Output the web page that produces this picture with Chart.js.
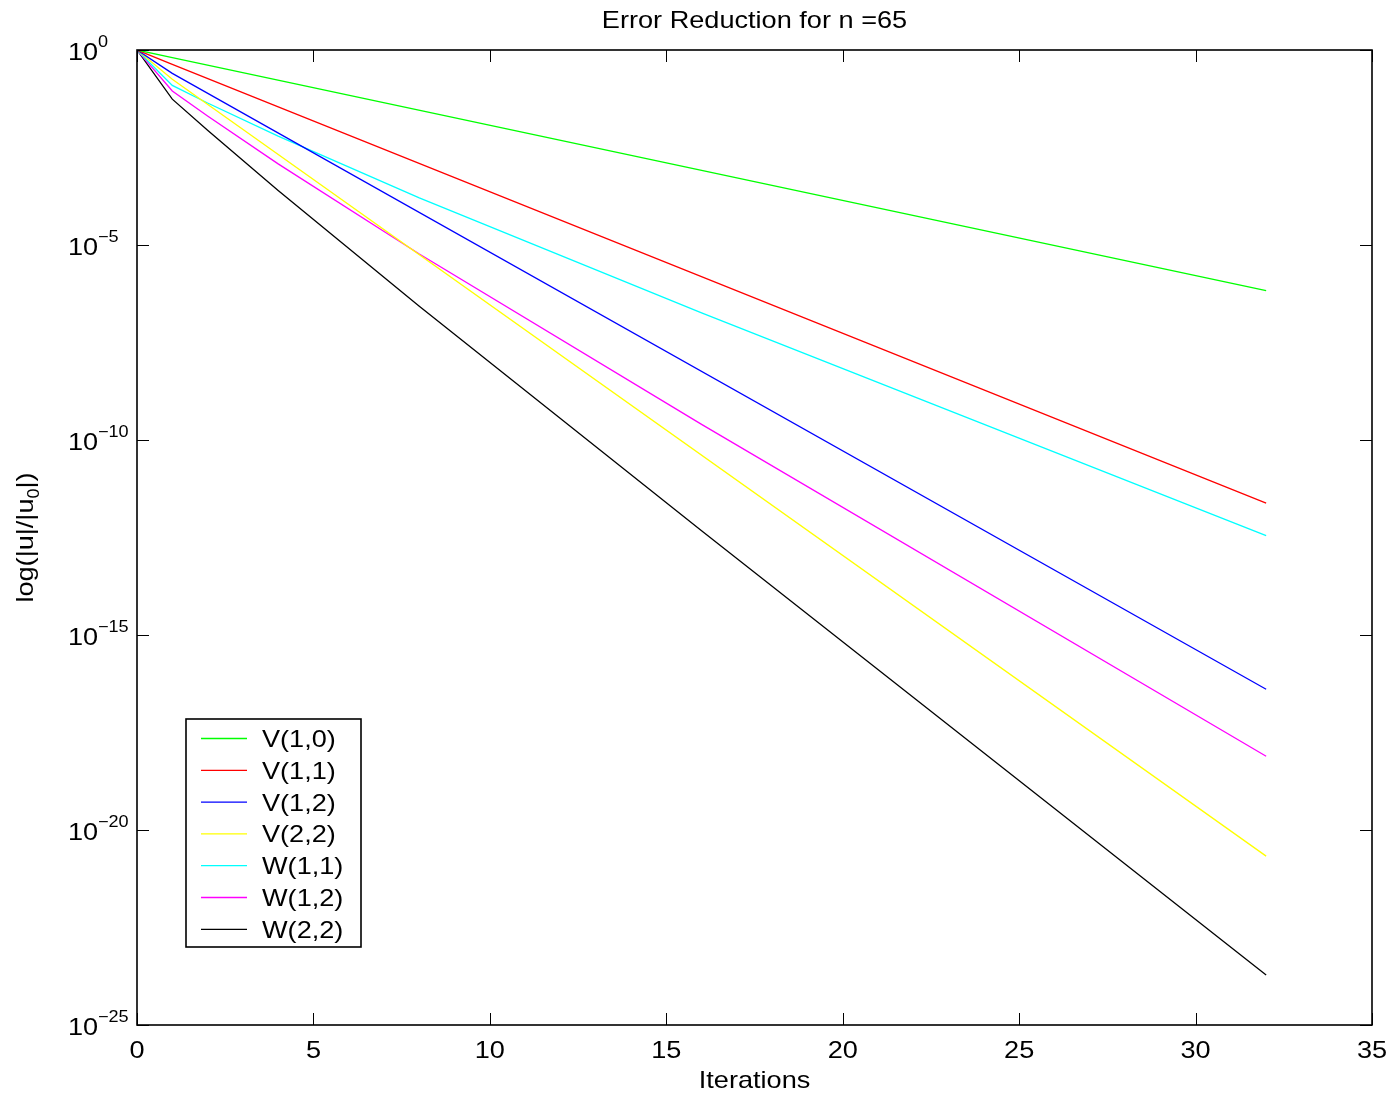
<!DOCTYPE html>
<html>
<head>
<meta charset="utf-8">
<title>Error Reduction for n =65</title>
<script src="https://cdn.jsdelivr.net/npm/chart.js@4/dist/chart.umd.min.js"></script>
<style>
  html, body { margin: 0; padding: 0; background: #fff; }
  #chart { display: block; }
</style>
</head>
<body>
<canvas id="chart" width="1394" height="1096"></canvas>
<script>
const itersStraight = [0, 1, 32];
const itersCurved = [0, 1, 2, 4, 8, 16, 32];

// Error ratio |u|/|u0| for each cycle type
const v10 = [1, 0.641, 6.76e-7];
const v11 = [1, 0.427, 2.40e-12];
const v12 = [1, 0.251, 4.07e-17];
const v22 = [1, 0.178, 2.14e-21];
const w11 = [1, 0.124, 0.0437, 6.17e-3, 1.62e-4, 1.82e-7, 3.55e-13];
const w12 = [1, 0.0891, 0.0204, 1.20e-3, 5.89e-6, 2.51e-10, 7.76e-19];
const w22 = [1, 0.0550, 8.71e-3, 2.51e-4, 2.69e-7, 4.68e-13, 1.91e-24];

const seriesNames = ['V(1,0)', 'V(1,1)', 'V(1,2)', 'V(2,2)', 'W(1,1)', 'W(1,2)', 'W(2,2)'];
const seriesValues = [v10, v11, v12, v22, w11, w12, w22];
const seriesIters = [itersStraight, itersStraight, itersStraight, itersStraight, itersCurved, itersCurved, itersCurved];
const seriesColors = ['#00ff00', '#ff0000', '#0000ff', '#ffff00', '#00ffff', '#ff00ff', '#000000'];

// Axis ticks
const xTicks = [0, 5, 10, 15, 20, 25, 30, 35];
const yTickExponents = [0, -5, -10, -15, -20, -25];

const FONT = '"Liberation Sans", Arial, Helvetica, sans-serif';
const SX = 1.13; // text in the reference is a bit wide

function drawText(ctx, s, x, y, size, align) {
    ctx.save();
    ctx.font = size + 'px ' + FONT;
    ctx.translate(x, y);
    ctx.scale(SX, 1);
    ctx.textAlign = align || 'left';
    ctx.textBaseline = 'alphabetic';
    ctx.fillText(s, 0, 0);
    ctx.restore();
}

function textWidth(ctx, s, size) {
    ctx.save();
    ctx.font = size + 'px ' + FONT;
    const w = ctx.measureText(s).width * SX;
    ctx.restore();
    return w;
}

// Box, inward ticks, labels and legend, drawn the MATLAB way
const decorPlugin = {
    id: 'decor',
    afterDraw(chart) {
        const ctx = chart.ctx;
        const area = chart.chartArea;
        const xs = chart.scales.x;
        const ys = chart.scales.y;
        const tickLen = 12;

        ctx.save();
        ctx.fillStyle = '#000';
        ctx.strokeStyle = '#000';

        // ticks
        ctx.lineWidth = 1;
        ctx.beginPath();
        xTicks.forEach(v => {
            const px = Math.round(xs.getPixelForValue(v)) + 0.5;
            ctx.moveTo(px, area.bottom); ctx.lineTo(px, area.bottom - tickLen);
            ctx.moveTo(px, area.top); ctx.lineTo(px, area.top + tickLen);
        });
        yTickExponents.forEach(e => {
            const py = Math.round(ys.getPixelForValue(Math.pow(10, e))) + 0.5;
            ctx.moveTo(area.left, py); ctx.lineTo(area.left + tickLen, py);
            ctx.moveTo(area.right, py); ctx.lineTo(area.right - tickLen, py);
        });
        ctx.stroke();

        // box
        ctx.lineWidth = 1.6;
        ctx.strokeRect(area.left, area.top, area.right - area.left, area.bottom - area.top);

        // x tick labels
        xTicks.forEach(v => {
            drawText(ctx, String(v), xs.getPixelForValue(v), area.bottom + 33, 24, 'center');
        });

        // y tick labels: 10 with superscript exponent
        yTickExponents.forEach(e => {
            const py = ys.getPixelForValue(Math.pow(10, e));
            drawText(ctx, '10', 68, py + 10, 24, 'left');
            const exp = e === 0 ? '0' : '\u2212' + Math.abs(e);
            drawText(ctx, exp, 98, py - 3, 16, 'left');
        });

        // title and axis titles
        const cx = (area.left + area.right) / 2;
        drawText(ctx, 'Error Reduction for n =65', cx, 28, 24, 'center');
        drawText(ctx, 'Iterations', cx, area.bottom + 63, 24, 'center');

        // y label with subscript 0
        const cy = (area.top + area.bottom) / 2;
        const partA = 'log(|u|/|u';
        const partB = '0';
        const partC = '|)';
        const wA = textWidth(ctx, partA, 24);
        const wB = textWidth(ctx, partB, 16);
        const wC = textWidth(ctx, partC, 24);
        const total = wA + wB + wC;
        ctx.save();
        ctx.translate(33, cy);
        ctx.rotate(-Math.PI / 2);
        let tx = -total / 2;
        drawText(ctx, partA, tx, 0, 24, 'left');
        tx += wA;
        drawText(ctx, partB, tx, 6, 16, 'left');
        tx += wB;
        drawText(ctx, partC, tx, 0, 24, 'left');
        ctx.restore();

        // legend box inside the plot
        const lx = 186, ly = 719, lw = 175, lh = 228;
        ctx.fillStyle = '#fff';
        ctx.fillRect(lx, ly, lw, lh);
        ctx.lineWidth = 1.6;
        ctx.strokeStyle = '#000';
        ctx.strokeRect(lx, ly, lw, lh);
        chart.data.datasets.forEach((ds, i) => {
            const rowY = ly + 19.5 + i * 31.8;
            ctx.strokeStyle = ds.borderColor;
            ctx.lineWidth = 1.3;
            ctx.beginPath();
            ctx.moveTo(lx + 15, rowY);
            ctx.lineTo(lx + 61, rowY);
            ctx.stroke();
            ctx.fillStyle = '#000';
            drawText(ctx, ds.label, lx + 76, rowY + 8.5, 24, 'left');
        });

        ctx.restore();
    }
};

const datasets = seriesNames.map((name, i) => ({
    label: name,
    data: seriesIters[i].map((it, j) => ({ x: it, y: seriesValues[i][j] })),
    borderColor: seriesColors[i],
    borderWidth: 1.3,
    pointRadius: 0,
    tension: 0,
    fill: false
}));

const ctx = document.getElementById('chart').getContext('2d');
new Chart(ctx, {
    type: 'line',
    data: { datasets: datasets },
    options: {
        responsive: false,
        animation: false,
        layout: { padding: { left: 137, right: 22, top: 50, bottom: 71 } },
        plugins: {
            legend: { display: false },
            title: { display: false },
            tooltip: { enabled: false }
        },
        scales: {
            x: { type: 'linear', min: 0, max: 35, display: false },
            y: { type: 'logarithmic', min: 1e-25, max: 1, display: false }
        }
    },
    plugins: [decorPlugin]
});
</script>
</body>
</html>
